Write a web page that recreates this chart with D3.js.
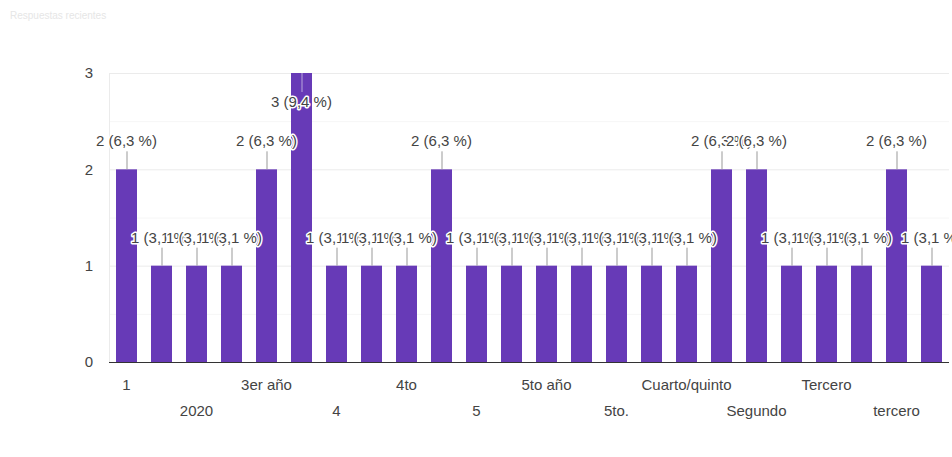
<!DOCTYPE html>
<html>
<head>
<meta charset="utf-8">
<script src="https://cdn.jsdelivr.net/npm/d3@7"></script>
<style>
  body { margin: 0; background: #fff; }
  svg { display: block; font-family: Arial, "Liberation Sans", sans-serif; }
</style>
</head>
<body>
<div id="chart"></div>
<script>
// Answers (x categories) and response counts
const categories = ["1", "2", "2020", "3", "3er año", "3ro", "4", "4 año", "4to", "4to año",
  "5", "5to", "5to año", "5to año ", "5to.", "Cuarto", "Cuarto/quinto", "Quinto",
  "Segundo", "Sexto", "Tercero", "Tercer año", "tercero", "tercer año"];
const counts = [2, 1, 1, 1, 2, 3, 1, 1, 1, 2, 1, 1, 1, 1, 1, 1, 1, 2, 2, 1, 1, 1, 2, 1];
const yTicks = [0, 1, 2, 3];
const total = d3.sum(counts);

const width = 952;
const height = 457;
const marginLeft = 109;
const plotRight = 949;
const marginTop = 73;
const baseline = 362;

const svg = d3.create("svg")
    .attr("width", width)
    .attr("height", height);
chart.append(svg.node());

// faint header text at top left
svg.append("text")
    .attr("x", 10)
    .attr("y", 19)
    .attr("font-size", 10)
    .attr("fill", "#e6e6e6")
    .text("Respuestas recientes");

const x = d3.scaleBand()
    .domain(categories)
    .range([marginLeft, plotRight])
    .paddingInner(0.4)
    .paddingOuter(0.2);

const y = d3.scaleLinear()
    .domain([0, 3])
    .range([baseline, marginTop]);

// minor gridlines
svg.append("g")
    .selectAll("line")
    .data([0.5, 1.5, 2.5])
    .join("line")
    .attr("x1", marginLeft).attr("x2", plotRight)
    .attr("y1", d => y(d) + 0.5).attr("y2", d => y(d) + 0.5)
    .attr("stroke", "#f6f6f6");

// major gridlines + y labels
const gy = svg.append("g")
    .attr("transform", `translate(${marginLeft},0)`)
    .call(d3.axisLeft(y).tickValues(yTicks).tickFormat(d3.format("d"))
        .tickSize(-(plotRight - marginLeft)).tickPadding(16));
gy.select(".domain").remove();
gy.selectAll(".tick line").attr("stroke", "#ebebeb");
gy.selectAll(".tick text")
    .attr("font-size", 15)
    .attr("fill", "#444")
    .attr("font-family", "Arial, 'Liberation Sans', sans-serif");

// left border of the plot area
svg.append("line")
    .attr("x1", marginLeft + 0.5).attr("x2", marginLeft + 0.5)
    .attr("y1", marginTop).attr("y2", baseline)
    .attr("stroke", "#ebebeb");

// bars
svg.append("g")
    .selectAll("rect")
    .data(counts)
    .join("rect")
    .attr("x", (d, i) => x(categories[i]))
    .attr("y", d => y(d))
    .attr("width", x.bandwidth())
    .attr("height", d => y(0) - y(d))
    .attr("fill", "#673ab7");

// baseline
svg.append("line")
    .attr("x1", marginLeft).attr("x2", plotRight)
    .attr("y1", baseline + 0.5).attr("y2", baseline + 0.5)
    .attr("stroke", "#333");

// x axis, every other label, staggered in two rows
const gx = svg.append("g")
    .attr("transform", `translate(0,${baseline})`)
    .call(d3.axisBottom(x)
        .tickValues(categories.filter((c, i) => i % 2 === 0))
        .tickSize(0).tickPadding(0));
gx.select(".domain").remove();
gx.selectAll(".tick text")
    .attr("font-size", 15)
    .attr("fill", "#444")
    .attr("font-family", "Arial, 'Liberation Sans', sans-serif")
    .attr("dy", null)
    .attr("y", (d, i) => i % 2 === 0 ? 28 : 54);

// annotation leaders and labels
const fmt = v => v + " (" + (v / total * 100).toFixed(1).replace(".", ",") + " %)";
const ann = svg.append("g");
counts.forEach((v, i) => {
    const cx = x(categories[i]) + x.bandwidth() / 2;
    const inside = v === 3;
    const top = y(v);
    ann.append("line")
        .attr("x1", cx + 0.5).attr("x2", cx + 0.5)
        .attr("y1", top)
        .attr("y2", inside ? top + 19 : top - 18)
        .attr("stroke", inside ? "#b9a6dc" : "#999");
});
counts.forEach((v, i) => {
    const cx = x(categories[i]) + x.bandwidth() / 2;
    const inside = v === 3;
    const top = y(v);
    ann.append("text")
        .attr("x", cx)
        .attr("y", inside ? top + 34 : top - 23)
        .attr("text-anchor", "middle")
        .attr("font-size", 15)
        .attr("fill", "#444")
        .attr("stroke", "#fff")
        .attr("stroke-width", 3)
        .attr("stroke-linejoin", "round")
        .attr("paint-order", "stroke")
        .text(fmt(v));
});
</script>
</body>
</html>
